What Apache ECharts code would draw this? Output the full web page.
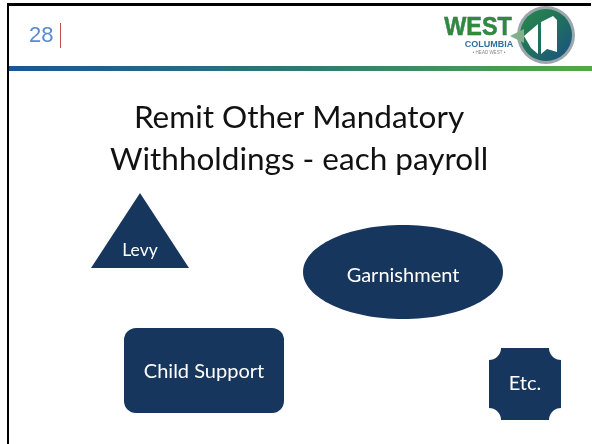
<!DOCTYPE html>
<html><head><meta charset="utf-8">
<script src="https://cdn.jsdelivr.net/npm/echarts@6/dist/echarts.min.js"></script>
<style>html,body{margin:0;padding:0;background:#fff}#c{width:592px;height:444px}</style>
</head><body><div id="c"></div>
<script>
const slideNumber = '28';
const titleLines = ['Remit Other Mandatory', 'Withholdings - each payroll'];
const shapeLabels = ['Levy', 'Garnishment', 'Child Support', 'Etc.'];
const logoWords = ['WEST', 'COLUMBIA', '\u2022 HEAD WEST \u2022'];

const navy = '#17365d';
const chart = echarts.init(document.getElementById('c'), null, {renderer: 'canvas'});
const g = [];
// frame
g.push({type: 'rect', shape: {x: 7, y: 3, width: 584, height: 3}, style: {fill: '#000'}});
g.push({type: 'rect', shape: {x: 7, y: 3, width: 2, height: 441}, style: {fill: '#000'}});
// gradient bar
g.push({type: 'rect', shape: {x: 9, y: 66, width: 583, height: 5}, style: {fill: new echarts.graphic.LinearGradient(0, 0, 1, 0, [
  {offset: 0, color: '#1a5596'}, {offset: 0.5, color: '#2c7a74'}, {offset: 1, color: '#53aa44'}])}});
// slide number
g.push({type: 'text', style: {x: 29, y: 36, text: slideNumber, font: '22px "Liberation Sans", Arial', fill: '#5a8ad0', verticalAlign: 'middle'}});
g.push({type: 'line', shape: {x1: 60.5, y1: 23, x2: 60.5, y2: 48}, style: {stroke: '#c0504d', lineWidth: 1}});
// logo
g.push({type: 'text', x: 478, y: 28, scaleX: 0.9, style: {x: 0, y: 0, text: logoWords[0], font: 'bold 26px "Liberation Sans Narrow", "Liberation Sans"', fill: '#2f8a3c', align: 'center', verticalAlign: 'middle', stroke: '#1e5f6a', lineWidth: 0.5}});
g.push({type: 'text', style: {x: 489, y: 45, text: logoWords[1], font: 'bold 9px "Liberation Sans"', fill: '#2f6fa0', align: 'center', verticalAlign: 'middle'}});
g.push({type: 'text', style: {x: 489, y: 52.5, text: logoWords[2], font: '4.5px "Liberation Sans"', fill: '#888', align: 'center', verticalAlign: 'middle'}});
g.push({type: 'circle', shape: {cx: 546, cy: 35, r: 29}, style: {fill: '#9aa7ad'}});
g.push({type: 'circle', shape: {cx: 546, cy: 35, r: 26}, style: {fill: new echarts.graphic.LinearGradient(0, 0, 1, 1, [
  {offset: 0, color: '#2a8a4a'}, {offset: 0.5, color: '#1f6f5e'}, {offset: 1, color: '#1b4f86'}])}});
g.push({type: 'polygon', shape: {points: [[524, 36], [538, 24], [538, 54], [531, 48]]}, style: {fill: '#fff'}});
g.push({type: 'polygon', shape: {points: [[541, 22], [553, 16], [557, 20], [557, 52], [547, 49], [541, 54]]}, style: {fill: '#fff'}});
g.push({type: 'polygon', shape: {points: [[510, 36], [524, 29], [524, 43]]}, style: {fill: '#7fb08a'}});
// title
g.push({type: 'text', style: {x: 299, y: 118, text: titleLines[0], font: '31.5px Lato, "Open Sans"', fill: '#111', align: 'center', verticalAlign: 'middle'}});
g.push({type: 'text', style: {x: 299, y: 160, text: titleLines[1], font: '31.5px Lato, "Open Sans"', fill: '#111', align: 'center', verticalAlign: 'middle'}});
// shapes
g.push({type: 'polygon', shape: {points: [[140, 193], [189, 268], [91, 268]]}, style: {fill: navy}});
g.push({type: 'ellipse', shape: {cx: 403, cy: 272, rx: 100, ry: 47}, style: {fill: navy}});
g.push({type: 'rect', shape: {x: 124, y: 328, width: 160, height: 85, r: 12}, style: {fill: navy}});
// plaque: rectangle with concave corners
(function () {
  const x0 = 489, y0 = 348, x1 = 561, y1 = 420, r = 12, n = 10;
  const corners = [[x1, y0, Math.PI, Math.PI / 2], [x1, y1, 3 * Math.PI / 2, Math.PI], [x0, y1, 0, -Math.PI / 2], [x0, y0, Math.PI / 2, 0]];
  const pts = [];
  corners.forEach(c => {
    for (let k = 0; k <= n; k++) {
      const a = c[2] + (c[3] - c[2]) * k / n;
      pts.push([c[0] + r * Math.cos(a), c[1] + r * Math.sin(a)]);
    }
  });
  g.push({type: 'polygon', shape: {points: pts}, style: {fill: navy}});
})();
const labelPos = [[140, 250, 17.5], [403, 276, 20], [204, 372, 20], [525, 384, 20]];
shapeLabels.forEach((t, i) => {
  const p = labelPos[i];
  g.push({type: 'text', style: {x: p[0], y: p[1], text: t, font: p[2] + 'px Lato, "Open Sans"', fill: '#fff', align: 'center', verticalAlign: 'middle'}});
});
chart.setOption({animation: false, graphic: {elements: g}});
</script></body></html>
